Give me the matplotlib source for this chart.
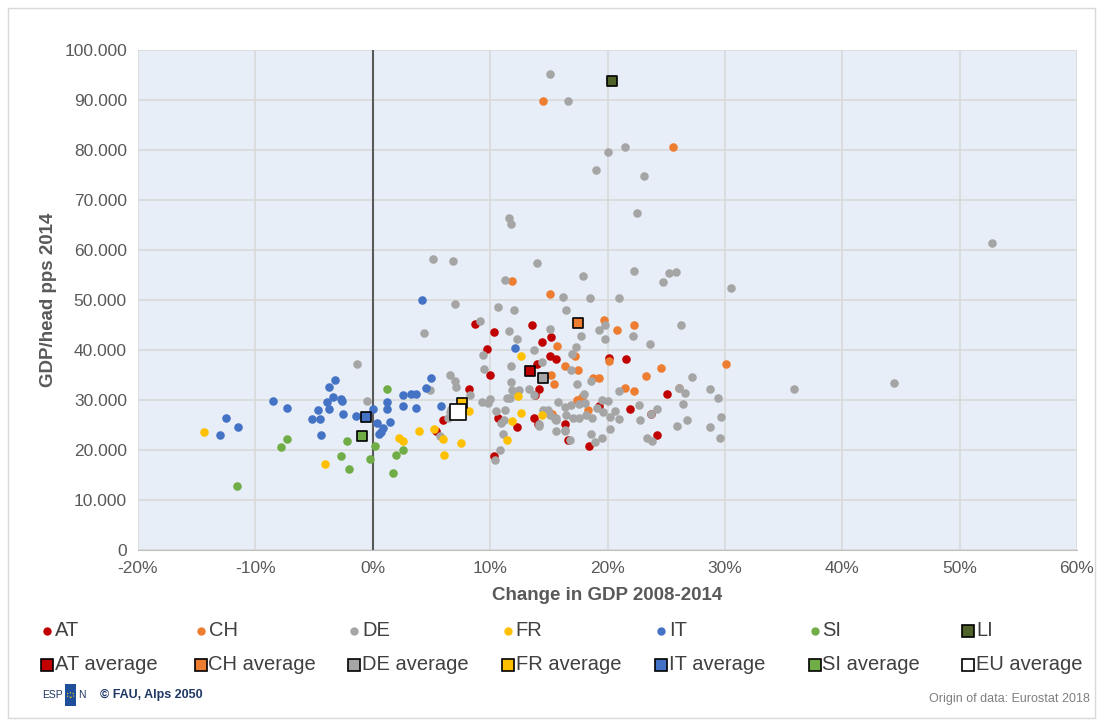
import matplotlib
matplotlib.use("Agg")
import matplotlib.pyplot as plt
from matplotlib.ticker import FuncFormatter
from matplotlib.lines import Line2D
from matplotlib.patches import Rectangle, Circle

plt.rcParams['font.family'] = ['Liberation Sans', 'DejaVu Sans']

# ---- data: (change in GDP 2008-2014 in %, GDP/head pps 2014 in thousands) ----
at_x = [8.7, 10.3, 9.7, 10.0, 8.2, 6.0, 5.4, 10.7, 12.3, 10.3, 13.6, 14.4, 15.2, 15.1, 15.6, 14.0,
        14.2, 13.8, 13.7, 14.1, 20.1, 21.6, 25.1, 21.9, 23.7, 24.2, 16.4, 16.6, 18.4, 19.3]
at_y = [45.2, 43.7, 40.3, 35.1, 32.3, 26.0, 23.9, 26.5, 24.7, 18.8, 45.0, 41.6, 42.7, 38.8, 38.3, 37.3,
        32.3, 31.0, 26.5, 25.3, 38.5, 38.3, 31.2, 28.3, 27.2, 23.1, 25.3, 22.1, 20.9, 28.8]

ch_x = [14.5, 25.6, 11.9, 15.1, 19.7, 20.8, 22.3, 15.7, 17.2, 16.4, 17.5, 15.2, 15.4, 18.8, 19.3,
        20.1, 21.5, 22.3, 23.3, 24.6, 17.4, 17.8, 18.3, 26.1, 15.3, 30.1]
ch_y = [89.9, 80.7, 53.8, 51.3, 46.0, 44.0, 45.0, 40.9, 38.9, 36.8, 36.0, 35.0, 33.2, 34.5, 34.4,
        37.9, 32.5, 31.9, 34.8, 36.5, 30.1, 30.7, 28.0, 32.5, 27.3, 37.3]

de_x = [15.1, 16.6, 20.0, 21.5, 19.0, 23.1, 22.5, 11.6, 11.8, 5.1, 6.8, 14.0, 22.3, 17.9, 24.7, 25.2,
        25.8, 11.3, 30.5, 16.2, 18.5, 21.0, 52.8, 44.4, 35.9, 28.7, 29.4, 29.7, 28.7, 29.6, 27.2, 26.3,
        26.1, 26.6, 26.4, 26.8, 25.9, 19.3, 19.8, 22.2, 7.0, 10.7, 12.0, 16.5, 9.1, 15.1, 11.6, 4.4,
        17.7, 12.3, 17.3, 17.0, 23.6, 14.4, 16.9, 17.4, 18.6, 18.0, 21.0, 15.8, 16.4, 16.9, 17.6,
        18.1, 19.5, 20.0, 14.9, 15.1, 16.5, 17.1, 17.6, 18.2, 18.7, 19.1, 19.6, 20.6, 20.2, 21.0,
        22.8, 23.7, 24.2, 22.7, 20.2, 18.6, 19.5, 18.9, 16.8, 16.4, 15.6, 23.4, 23.8, 15.6, 14.2,
        13.7, 9.4, 9.5, 11.8, 6.6, 7.0, 7.1, 4.9, 11.8, 11.9, 12.2, 12.5, 11.4, 11.7, 13.3, 13.7,
        10.0, 9.3, 9.8, 8.3, 6.6, 6.4, 6.7, 5.7, 10.5, 11.3, 10.9, 11.2, 11.1, 10.8, 10.4, 14.2,
        14.5, 15.5, 15.6, 16.4, -1.3, -0.5, 19.8]
de_y = [95.3, 89.9, 79.6, 80.7, 76.1, 74.8, 67.5, 66.5, 65.2, 58.2, 57.8, 57.5, 55.9, 54.8, 53.7, 55.5,
        55.7, 54.1, 52.5, 50.6, 50.5, 50.5, 61.4, 33.5, 32.2, 32.2, 30.5, 26.7, 24.6, 22.4, 34.6, 45.0,
        32.5, 31.5, 29.2, 26.1, 24.9, 44.0, 45.0, 42.8, 49.3, 48.7, 48.0, 48.1, 45.9, 44.3, 43.9, 43.5,
        42.9, 42.3, 40.7, 39.3, 41.3, 37.7, 36.0, 33.3, 33.9, 31.3, 31.9, 29.7, 28.7, 29.0, 29.2,
        29.5, 30.0, 29.9, 28.0, 27.0, 27.0, 26.5, 26.5, 27.0, 26.5, 28.5, 27.7, 27.9, 26.7, 26.2,
        26.0, 27.2, 28.3, 29.1, 24.3, 23.3, 22.5, 21.7, 22.0, 24.0, 23.8, 22.5, 21.8, 26.5, 24.8,
        40.0, 39.1, 36.2, 36.9, 35.0, 33.8, 32.7, 32.0, 33.7, 32.1, 31.7, 32.1, 30.5, 30.5, 32.3, 31.1,
        30.3, 29.7, 29.5, 31.0, 27.7, 26.5, 28.3, 22.8, 27.8, 28.1, 25.5, 26.0, 23.3, 20.0, 18.1, 25.2,
        28.0, 26.3, 26.1, 23.9, 37.2, 29.8, 42.3]

fr_x = [-14.4, -4.1, 3.9, 5.2, 2.2, 2.6, 6.0, 6.1, 7.5, 8.2, 12.6, 12.4, 12.6, 11.9, 11.4, 14.4]
fr_y = [23.7, 17.2, 23.9, 24.3, 22.5, 21.9, 22.2, 19.1, 21.5, 27.9, 38.8, 30.8, 27.5, 25.9, 22.1, 27.0]

it_x = [-13.0, -12.5, -11.5, -8.5, -7.3, -5.2, -4.5, -4.7, -4.4, -3.9, -3.4, -3.7, -3.7, -3.2, -2.6,
        -2.5, -1.4, 0.0, 0.4, 0.9, 0.5, 0.7, 1.2, 1.2, 1.5, 2.6, 3.3, 3.7, 2.6, 3.7, 4.5, 5.0, 5.8,
        4.2, 12.1, -2.7]
it_y = [23.0, 26.5, 24.6, 29.8, 28.5, 26.3, 26.3, 28.1, 23.1, 29.7, 30.7, 28.3, 32.7, 34.1, 29.9,
        27.3, 26.9, 28.2, 25.5, 24.5, 23.2, 23.7, 29.7, 28.3, 25.6, 31.0, 31.2, 31.3, 28.9, 28.5, 32.5,
        34.5, 28.8, 50.0, 40.5, 30.2]

si_x = [-11.6, -7.3, -7.8, -2.2, -2.7, -2.0, 0.2, -0.2, 1.2, 2.0, 2.6, 1.7]
si_y = [12.9, 22.2, 20.6, 21.9, 18.9, 16.3, 20.8, 18.3, 32.3, 19.1, 20.0, 15.5]

li_x = [20.4]
li_y = [93.8]

avg_names = ['AT average', 'CH average', 'DE average', 'FR average', 'IT average', 'SI average']
avg_x = [13.4, 17.5, 14.5, 7.6, -0.6, -0.9]
avg_y = [35.8, 45.4, 34.5, 29.5, 26.6, 22.8]
eu_x = [7.3]
eu_y = [27.6]

x_ticks = [-20, -10, 0, 10, 20, 30, 40, 50, 60]
y_ticks = [0, 10000, 20000, 30000, 40000, 50000, 60000, 70000, 80000, 90000, 100000]

# ---- styling ----
C = {'AT': '#C00000', 'CH': '#ED7D31', 'DE': '#A5A5A5', 'FR': '#FFC000',
     'IT': '#4472C4', 'SI': '#70AD47', 'LI': '#4F6228'}
avg_cols = [C['AT'], C['CH'], C['DE'], C['FR'], C['IT'], C['SI']]
TXT = '#595959'

fig = plt.figure(figsize=(11.02, 7.24), dpi=100)
fig.patch.set_facecolor('white')
fig.add_artist(Rectangle((8 / 1102, 6 / 724), 1087 / 1102, 710 / 724, transform=fig.transFigure,
                         fill=False, edgecolor='#D9D9D9', linewidth=1))

ax = fig.add_axes([138 / 1102, 1 - 550 / 724, 939 / 1102, 500 / 724])
ax.set_facecolor('#E8EEF7')
ax.set_xlim(-20, 60)
ax.set_ylim(0, 100000)
ax.set_xticks(x_ticks)
ax.set_yticks(y_ticks)
ax.xaxis.set_major_formatter(FuncFormatter(lambda v, p: f"{int(round(v))}%"))
ax.yaxis.set_major_formatter(FuncFormatter(lambda v, p: "0" if v == 0 else f"{int(v):,}".replace(",", ".")))
ax.grid(True, color='#D9D9D9', linewidth=1.2, zorder=0)
ax.set_axisbelow(True)
for s in ['top', 'right', 'left']:
    ax.spines[s].set_visible(False)
ax.spines['bottom'].set_color('#BFBFBF')
ax.tick_params(length=0, labelsize=12.5, labelcolor=TXT, pad=8)
ax.axvline(0, color='#595959', linewidth=1.5, zorder=1)

s_pt = 38
def k(v):
    return [t * 1000 for t in v]

ax.scatter(at_x, k(at_y), s=s_pt, color=C['AT'], linewidths=0, zorder=3)
ax.scatter(ch_x, k(ch_y), s=s_pt, color=C['CH'], linewidths=0, zorder=3)
ax.scatter(de_x, k(de_y), s=s_pt, color=C['DE'], linewidths=0, zorder=3)
ax.scatter(fr_x, k(fr_y), s=s_pt, color=C['FR'], linewidths=0, zorder=3)
ax.scatter(it_x, k(it_y), s=s_pt, color=C['IT'], linewidths=0, zorder=3)
ax.scatter(si_x, k(si_y), s=s_pt, color=C['SI'], linewidths=0, zorder=3)
ax.scatter(li_x, k(li_y), s=60, marker='s', color=C['LI'], edgecolors='black', linewidths=1.2, zorder=4)
for xv, yv, col in zip(avg_x, avg_y, avg_cols):
    ax.scatter([xv], [yv * 1000], s=62, marker='s', color=col, edgecolors='black', linewidths=1.2, zorder=4)
ax.scatter(eu_x, k(eu_y), s=120, marker='s', color='white', edgecolors='black', linewidths=1.2, zorder=4)

ax.set_xlabel('Change in GDP 2008-2014', fontsize=13.5, fontweight='bold', color=TXT, labelpad=8)
ax.set_ylabel('GDP/head pps 2014', fontsize=13.5, fontweight='bold', color=TXT, labelpad=5)

# ---- legend (manual grid, 7 columns x 2 rows) ----
row1 = [('AT', C['AT'], 'o'), ('CH', C['CH'], 'o'), ('DE', C['DE'], 'o'), ('FR', C['FR'], 'o'),
        ('IT', C['IT'], 'o'), ('SI', C['SI'], 'o'), ('LI', C['LI'], 's')]
row2 = list(zip(avg_names, avg_cols)) + [('EU average', 'white')]
x0, dx = 47, 153.5
for i, (lab, col, m) in enumerate(row1):
    xm = x0 + i * dx
    y = 1 - 631 / 724
    if m == 'o':
        fig.add_artist(Line2D([xm / 1102], [y], marker='o', markersize=5, color=col, linestyle='none',
                              transform=fig.transFigure))
    else:
        fig.add_artist(Line2D([xm / 1102], [y], marker='s', markersize=9, markerfacecolor=col,
                              markeredgecolor='black', markeredgewidth=1.2, linestyle='none',
                              transform=fig.transFigure))
    fig.text((xm + 8) / 1102, y, lab, fontsize=14.5, color='#404040', va='center', ha='left')
for i, (lab, col) in enumerate(row2):
    xm = x0 + i * dx
    y = 1 - 665 / 724
    fig.add_artist(Line2D([xm / 1102], [y], marker='s', markersize=9, markerfacecolor=col,
                          markeredgecolor='black', markeredgewidth=1.2, linestyle='none',
                          transform=fig.transFigure))
    fig.text((xm + 8) / 1102, y, lab, fontsize=14.5, color='#404040', va='center', ha='left')

# ---- footer ----
fy = 1 - 695 / 724
fig.text(63 / 1102, fy, 'ESP', fontsize=7.5, color='#1F3864', va='center', ha='right')
fig.add_artist(Rectangle((65 / 1102, 1 - 706 / 724), 11 / 1102, 22 / 724, transform=fig.transFigure,
                         facecolor='#1F4E9A', edgecolor='none'))
fig.add_artist(Circle((70.5 / 1102, fy), 3.5 / 1102, transform=fig.transFigure,
                      fill=False, edgecolor='#FFD700', linewidth=0.8, linestyle=':'))
fig.text(78 / 1102, fy, 'N', fontsize=7.5, color='#1F3864', va='center', ha='left')
fig.text(100 / 1102, fy, '© FAU, Alps 2050', fontsize=9, fontweight='bold', color='#1F3864',
         va='center', ha='left')
fig.text(1090 / 1102, 1 - 699 / 724, 'Origin of data: Eurostat 2018', fontsize=9, color='#7F7F7F',
         va='center', ha='right')

fig.savefig('out.png', dpi=100)
